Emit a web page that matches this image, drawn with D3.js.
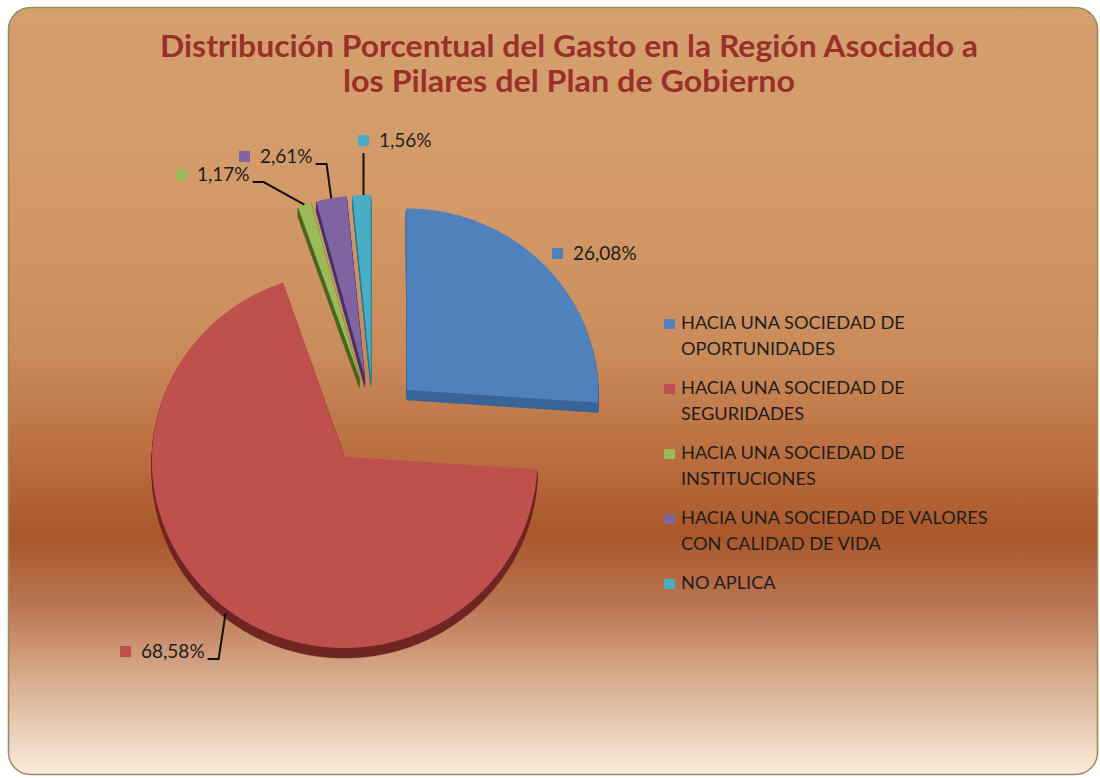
<!DOCTYPE html>
<html><head><meta charset="utf-8">
<script src="https://cdn.jsdelivr.net/npm/d3@7"></script>
<style>body{margin:0;background:#fff} svg{display:block}</style>
</head><body><svg id="c" width="1100" height="778"></svg>
<script>
// ---- data ----
const titleLines = ["Distribución Porcentual del Gasto en la Región Asociado a", "los Pilares del Plan de Gobierno"];
const categories = [
  "HACIA UNA SOCIEDAD DE OPORTUNIDADES",
  "HACIA UNA SOCIEDAD DE SEGURIDADES",
  "HACIA UNA SOCIEDAD DE INSTITUCIONES",
  "HACIA UNA SOCIEDAD DE VALORES CON CALIDAD DE VIDA",
  "NO APLICA"
];
const values = [26.08, 68.58, 1.17, 2.61, 1.56];
const colors = ["#4f81bd", "#bf504d", "#9bbb59", "#8064a2", "#4bacc6"];
const sideColors = ["#3a6598", "#6e2624", "#4a6422", "#47346a", "#2b7c92"];

// ---- layout ----
const svg = d3.select("#c");
const defs = svg.append("defs");
const g = defs.append("linearGradient").attr("id", "bg").attr("x1", 0).attr("y1", 0).attr("x2", 0).attr("y2", 1);
[[0, "#d5a06e"], [0.25, "#d39a68"], [0.45, "#ca8b5b"], [0.60, "#b96b3d"], [0.69, "#a9572a"],
 [0.78, "#bb7654"], [0.86, "#d3a484"], [0.94, "#e9ceb6"], [1, "#fbebdc"]]
  .forEach(([o, c]) => g.append("stop").attr("offset", o).attr("stop-color", c));

svg.append("rect").attr("x", 8.5).attr("y", 7.5).attr("width", 1089).attr("height", 767)
  .attr("rx", 22).attr("fill", "url(#bg)").attr("stroke", "#9a8d62").attr("stroke-width", 1.6);

// title
const titleW = [818, 452];
titleLines.forEach((t, i) => {
  svg.append("text").attr("x", 569).attr("y", 57 + i * 35)
    .attr("text-anchor", "middle").attr("font-family", "Lato, 'Open Sans', sans-serif")
    .attr("font-weight", 700).attr("font-size", 29.5).attr("fill", "#9b302b")
    .attr("textLength", titleW[i]).attr("lengthAdjust", "spacingAndGlyphs")
    .text(t);
});

// pie geometry
const pie = d3.pie().sort(null).value(d => d).startAngle(0).endAngle(2 * Math.PI)(values);
const R = 192, EXP = 46.5, CX = 373, CY = 420.7, A = 0.0001, C = 0.97, DEPTH = 10;
const proj = (x, y) => { const k = 1 / (1 - A * y); return [CX + x * k, CY + C * y * k]; };
const line = d3.line().curve(d3.curveLinearClosed);

function slicePts(p) {
  const mid = (p.startAngle + p.endAngle) / 2;
  const ox = EXP * Math.sin(mid), oy = -EXP * Math.cos(mid);
  const pts = [proj(ox, oy)];
  const n = Math.max(6, Math.ceil((p.endAngle - p.startAngle) / 0.01));
  for (let i = 0; i <= n; i++) {
    const a = p.startAngle + (p.endAngle - p.startAngle) * i / n;
    pts.push(proj(ox + R * Math.sin(a), oy - R * Math.cos(a)));
  }
  return pts;
}
function outerMid(p) {
  const mid = (p.startAngle + p.endAngle) / 2;
  return proj((EXP + R) * Math.sin(mid), -(EXP + R) * Math.cos(mid));
}

const gBody = svg.append("g"), gTop = svg.append("g");
pie.forEach((p, i) => {
  const d = line(slicePts(p));
  for (let k = DEPTH; k >= 1; k--) {
    gBody.append("path").attr("d", d).attr("transform", `translate(0,${k})`)
      .attr("fill", sideColors[i]).attr("stroke", sideColors[i]).attr("stroke-width", 0.6);
  }
  gTop.append("path").attr("d", d).attr("fill", colors[i]);
});

// data labels
const fmt = v => d3.format(".2f")(v).replace(".", ",") + "%";
const labelPos = [
  {x: 573, y: 260, leader: "none"},
  {x: 141, y: 658, leader: "elbow", dy: 5},
  {x: 197, y: 181, leader: "elbow", dy: 0},
  {x: 260, y: 163, leader: "elbow", dy: 0},
  {x: 379, y: 147, leader: "vertical", dy: 0}
];
const lblFont = "Lato, 'Open Sans', sans-serif";
pie.forEach((p, i) => {
  const L = labelPos[i];
  svg.append("rect").attr("x", L.x - 21).attr("y", L.y - 12).attr("width", 11).attr("height", 11)
    .attr("fill", colors[i]);
  const t = svg.append("text").attr("x", L.x).attr("y", L.y).attr("font-family", lblFont)
    .attr("font-size", 19).attr("fill", "#1e1e1e").text(fmt(values[i]));
  const tw = t.node().getComputedTextLength();
  const end = outerMid(p);
  end[1] += L.dy;
  let pts = null;
  if (L.leader === "elbow") {
    const sx = L.x + tw + 3, sy = L.y + 1;
    pts = [[sx, sy], [sx + 11, sy], end];
  } else if (L.leader === "vertical") {
    const sx = L.x - 15.5;
    pts = [[sx, L.y + 6], [sx, end[1]]];
  }
  if (pts) svg.append("path").attr("d", d3.line()(pts)).attr("fill", "none")
    .attr("stroke", "#111").attr("stroke-width", 2);
});

// legend
const legX = 664, legY = 329, lineH = 25.5, itemH = 65, maxW = 320;
const legFs = 18.2;
const measure = svg.append("text").attr("font-family", lblFont).attr("font-size", legFs);
function wrap(s) {
  const words = s.split(" "); const lines = []; let cur = "";
  words.forEach(w => {
    const test = cur ? cur + " " + w : w;
    measure.text(test);
    if (measure.node().getComputedTextLength() > maxW && cur) { lines.push(cur); cur = w; }
    else cur = test;
  });
  lines.push(cur); return lines;
}
categories.forEach((c, i) => {
  const y0 = legY + i * itemH;
  svg.append("rect").attr("x", legX).attr("y", y0 - 10).attr("width", 11).attr("height", 10)
    .attr("fill", colors[i]);
  const lines = wrap(c);
  const t = svg.append("text").attr("font-family", lblFont).attr("font-size", legFs).attr("fill", "#1e1e1e");
  lines.forEach((l, j) => t.append("tspan").attr("x", legX + 17).attr("y", y0 + j * lineH).text(l));
});
measure.remove();
</script>
</body></html>
